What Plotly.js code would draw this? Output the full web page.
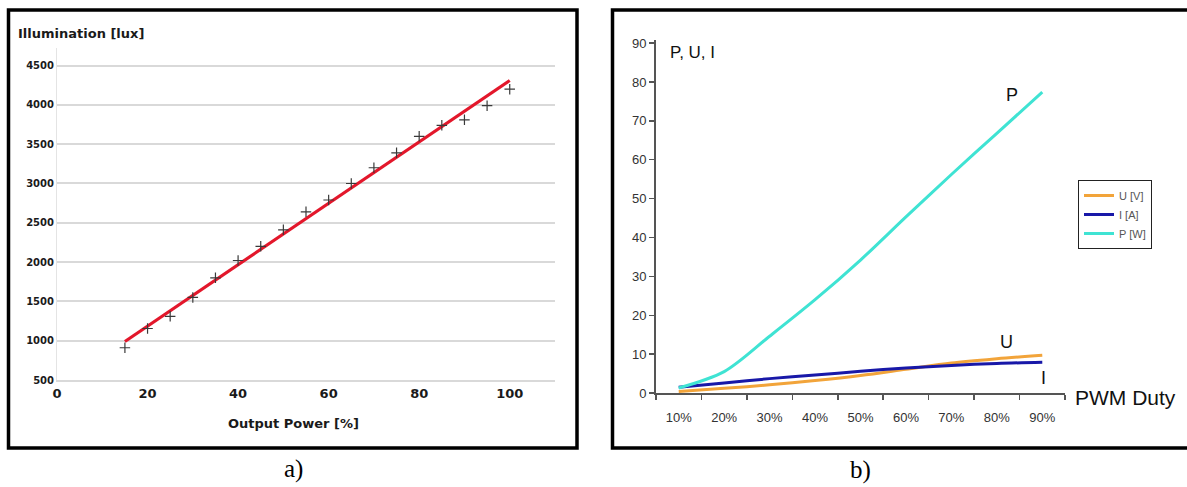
<!DOCTYPE html>
<html>
<head>
<meta charset="utf-8">
<script src="https://cdn.plot.ly/plotly-3.0.1.min.js"></script>
<style>html,body{margin:0;padding:0;background:#fff;}#chart{width:1187px;height:487px;}</style>
</head>
<body>
<div id="chart"></div>
<script>
// ---- Panel a) data: illumination vs output power ----
const powerPct = [15, 20, 25, 30, 35, 40, 45, 50, 55, 60, 65, 70, 75, 80, 85, 90, 95, 100];
const illumination = [910, 1155, 1310, 1550, 1800, 2020, 2200, 2410, 2640, 2790, 3000, 3200, 3390, 3600, 3740, 3810, 3990, 4200];
const trendX = [15, 100];
const trendY = [990, 4310];

// ---- Panel b) data: P, U, I vs PWM duty ----
const dutyLabels = ["10%", "20%", "30%", "40%", "50%", "60%", "70%", "80%", "90%"];
const voltageU = [0.4, 1.2, 2.1, 3.2, 4.5, 6.1, 7.7, 8.8, 9.7];
const currentI = [1.5, 2.6, 3.7, 4.6, 5.6, 6.4, 7.1, 7.6, 7.9];
const powerP = [1.3, 5.5, 14.6, 24.0, 34.2, 45.3, 56.2, 66.8, 77.4];
const legendNames = ["U [V]", "I [A]", "P [W]"];

const W = 1187, H = 487;
const px = x => x / W;
const py = y => 1 - y / H;

const boldFont = {family: "DejaVu Sans", weight: "bold", color: "#1a1a1a"};
const arial = "Liberation Sans, Arial, sans-serif";

const traces = [
  {x: trendX, y: trendY, xaxis: "x", yaxis: "y", mode: "lines", showlegend: false,
   line: {color: "#e3172b", width: 3.2}, hoverinfo: "skip"},
  {x: powerPct, y: illumination, xaxis: "x", yaxis: "y", mode: "markers", showlegend: false,
   marker: {symbol: "cross-thin", size: 7.5, line: {color: "#3a3a3a", width: 1.2}}},
  {x: dutyLabels, y: voltageU, xaxis: "x2", yaxis: "y2", mode: "lines", name: legendNames[0],
   line: {color: "#f2a43a", width: 3, shape: "spline", smoothing: 0.9}},
  {x: dutyLabels, y: currentI, xaxis: "x2", yaxis: "y2", mode: "lines", name: legendNames[1],
   line: {color: "#1818a8", width: 3, shape: "spline", smoothing: 0.9}},
  {x: dutyLabels, y: powerP, xaxis: "x2", yaxis: "y2", mode: "lines", name: legendNames[2],
   line: {color: "#3fe3d3", width: 3, shape: "spline", smoothing: 0.9}}
];

function ann(text, x, y, font, xanchor) {
  return {text: text, x: px(x), y: py(y), xref: "paper", yref: "paper", showarrow: false,
          xanchor: xanchor || "center", yanchor: "middle", font: font};
}

const layout = {
  width: W, height: H,
  margin: {l: 0, r: 0, t: 0, b: 0},
  paper_bgcolor: "#ffffff",
  plot_bgcolor: "#ffffff",
  showlegend: true,
  xaxis: {
    domain: [px(57), px(555)], range: [0, 110], anchor: "y",
    tick0: 0, dtick: 20, ticks: "", showgrid: false, zeroline: false,
    showline: true, linecolor: "#d9d9d9", linewidth: 2,
    tickfont: Object.assign({size: 13}, boldFont)
  },
  yaxis: {
    domain: [py(380), py(47.5)], range: [500, 4730], anchor: "x",
    tick0: 500, dtick: 500, ticks: "", showgrid: true, gridcolor: "#d9d9d9", gridwidth: 2,
    zeroline: false, showline: true, linecolor: "#e4e4e4", linewidth: 1,
    tickfont: Object.assign({size: 10}, boldFont)
  },
  xaxis2: {
    type: "category", domain: [px(656), px(1065)], range: [-0.5, 8.5], anchor: "y2",
    tickson: "boundaries", ticks: "outside", ticklen: 5, tickwidth: 1.5, tickcolor: "#555",
    showline: true, linecolor: "#555", linewidth: 2, showgrid: false, zeroline: false,
    ticklabelstandoff: 11,
    tickfont: {family: arial, size: 13, color: "#333"}
  },
  yaxis2: {
    domain: [py(393), py(40)], range: [0, 90.8], anchor: "x2",
    tick0: 0, dtick: 10, ticks: "outside", ticklen: 5, tickwidth: 1.5, tickcolor: "#555",
    showline: true, linecolor: "#555", linewidth: 2, showgrid: false, zeroline: false,
    tickfont: {family: arial, size: 13, color: "#333"}
  },
  legend: {
    x: px(1078), y: py(180), xanchor: "left", yanchor: "top",
    bgcolor: "#ffffff", bordercolor: "#222", borderwidth: 1,
    font: {family: arial, size: 11, color: "#555"},
    tracegroupgap: 0
  },
  shapes: [
    {type: "rect", xref: "paper", yref: "paper", x0: px(8.5), x1: px(577), y0: py(448), y1: py(10),
     line: {color: "#000", width: 3.5}, fillcolor: "rgba(0,0,0,0)"},
    {type: "rect", xref: "paper", yref: "paper", x0: px(612.5), x1: px(1200), y0: py(448), y1: py(10),
     line: {color: "#000", width: 3.5}, fillcolor: "rgba(0,0,0,0)"}
  ],
  annotations: [
    ann("Illumination [lux]", 16, 33, Object.assign({size: 13}, boldFont), "left"),
    ann("Output Power [%]", 293, 423, Object.assign({size: 13}, boldFont)),
    ann("a)", 293, 469, {family: "Liberation Serif, serif", size: 25, color: "#000"}),
    ann("b)", 860, 470, {family: "Liberation Serif, serif", size: 25, color: "#000"}),
    ann("P, U, I", 668, 52, {family: arial, size: 17, color: "#111"}, "left"),
    ann("P", 1012, 95, {family: arial, size: 18, color: "#111"}),
    ann("U", 1007, 342, {family: arial, size: 18, color: "#111"}),
    ann("I", 1043, 378, {family: arial, size: 18, color: "#111"}),
    ann("PWM Duty", 1073, 397, {family: arial, size: 21, color: "#111"}, "left")
  ]
};

Plotly.newPlot("chart", traces, layout, {displayModeBar: false, staticPlot: true});
</script>
</body>
</html>
